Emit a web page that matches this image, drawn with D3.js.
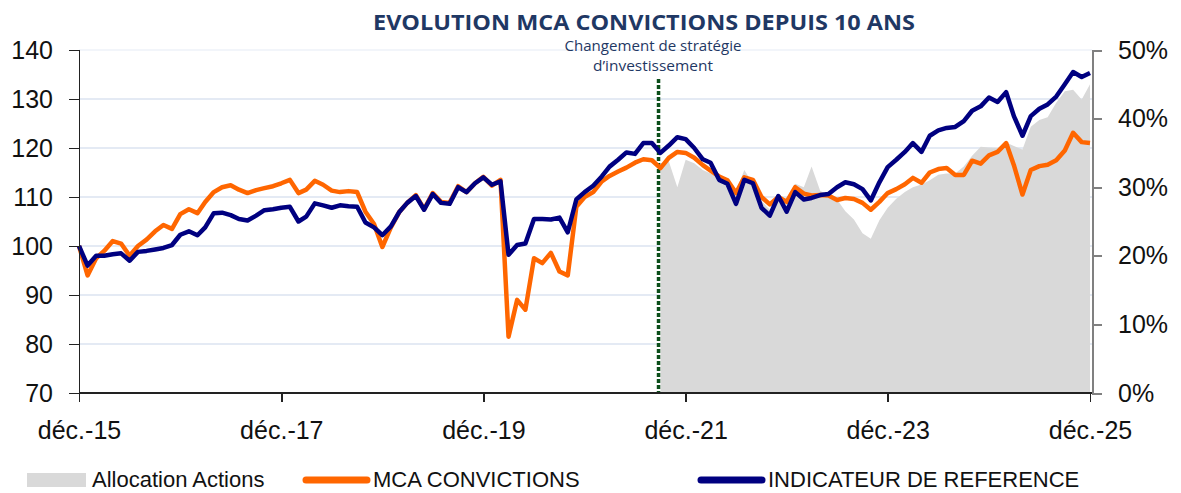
<!DOCTYPE html>
<html lang="fr">
<head>
    <meta charset="UTF-8">
    <title>Evolution MCA Convictions depuis 10 ans</title>
    <script src="https://d3js.org/d3.v7.min.js"></script>
    <style>
        body {
            margin: 0;
            background: #ffffff;
            font-family: "Liberation Sans", Arial, sans-serif;
        }
        .tick-label {
            font-size: 25px;
            fill: #111;
        }
        .legend-label {
            font-size: 22px;
            fill: #111;
        }
    </style>
</head>
<body>
    <svg id="chart" width="1181" height="493"></svg>
    <script>
        // Data (monthly, déc. 2015 -> déc. 2025)
        const startMonth = new Date(2015, 11, 1);
        const mca = [
            100, 94, 97.5, 99, 101, 100.5, 98, 100, 101.3, 103, 104.3, 103.5,
            106.5, 107.5, 106.7, 109, 111, 112, 112.4, 111.5, 110.8, 111.4, 111.8, 112.2,
            112.8, 113.5, 110.8, 111.5, 113.3, 112.5, 111.3, 111, 111.2, 111, 107, 104.5,
            99.8, 103.8, 107, 108.8, 110.4, 107.5, 110.8, 109, 108.8, 112.2, 111, 112.8,
            114.1, 112.3, 113.5, 81.5, 89, 87, 97.5, 96.5, 98.6, 94.8, 94, 108,
            110, 111, 113.2, 114.3, 115.2, 116, 117, 117.7, 117.5, 115.9, 118, 119.2,
            119, 118, 116.5, 115.4, 114.2, 113.4, 110.8, 114, 113.5, 110, 108.5, 110,
            109, 112, 110.7, 110.3, 110.4, 110.3, 109.4, 109.8, 109.6, 108.8, 107.4, 109,
            110.8, 111.6, 112.6, 113.9, 112.9, 115, 115.7, 115.9, 114.5, 114.5, 117.4, 116.8,
            118.5, 119.2, 121, 116.5, 110.5, 115.5, 116.3, 116.6, 117.5, 119.5, 123.1, 121.2,
            121
        ];
        const reference = [
            100, 96, 98, 98, 98.3, 98.5, 97, 98.8, 99, 99.3, 99.6, 100.2,
            102.3, 103, 102.2, 103.8, 106.7, 106.8, 106.3, 105.5, 105.2, 106.2, 107.3, 107.5,
            107.8, 108, 105, 106, 108.7, 108.3, 107.8, 108.3, 108.1, 108, 104.8, 103.8,
            102.2, 104, 107, 108.8, 110.2, 107.4, 110.6, 108.8, 108.6, 112, 111, 112.8,
            114, 112.5, 113.2, 98.2, 100.2, 100.5, 105.5, 105.5, 105.4, 105.8, 102.8, 109.5,
            111, 112.3, 114.2, 116.2, 117.6, 119.1, 118.8, 121, 121, 119, 120.5, 122.2,
            121.8, 120, 117.7, 117, 113.5, 112.7, 108.6, 113.5, 112.8, 107.8, 106.2, 110.2,
            107, 111, 109.5, 109.8, 110.4, 110.6, 112, 113, 112.6, 111.6, 109.3, 113,
            116.1, 117.6, 119.2, 121, 119.2, 122.5, 123.6, 124.1, 124.3, 125.5, 127.6, 128.5,
            130.3, 129.4, 131.4, 126.5, 122.5, 126.5, 128, 128.9, 130.5, 133, 135.5, 134.5,
            135.3
        ];
        // Allocation actions (right axis), from sept. 2021
        const allocStartIndex = 69;
        const allocation = [
            33.5, 33.8, 30, 34, 33.5, 32.5, 32, 31.5, 30.5, 29.5, 32.5, 30.5,
            28, 26.7, 27.8, 28.5, 30.5, 30, 33, 29.5, 28.8, 28.2, 26.5, 25.3,
            23.3, 22.5, 25.2, 27, 28.3, 29.3, 30, 30.4, 31, 31.8, 32, 32,
            33, 34.6, 35.9, 35.8, 35.7, 36.5, 36, 35.5, 38.8, 39.8, 40.2, 42.3,
            44, 44.2, 42.8, 45
        ];
        const leftTicks = [70, 80, 90, 100, 110, 120, 130, 140];
        const rightTicks = [0, 0.1, 0.2, 0.3, 0.4, 0.5];
        const xTickYears = [2015, 2017, 2019, 2021, 2023, 2025];
        const strategyDate = new Date(2021, 7, 25);

        const dates = mca.map((d, i) => d3.timeMonth.offset(startMonth, i));

        const svg = d3.select("#chart");
        const plotLeft = 79, plotRight = 1092, plotTop = 50, plotBottom = 393;

        const x = d3.scaleTime()
            .domain([startMonth, d3.timeMonth.offset(startMonth, 120)])
            .range([plotLeft, 1090]);
        const yLeft = d3.scaleLinear().domain([70, 140]).range([plotBottom, plotTop]);
        const yRight = d3.scaleLinear().domain([0, 0.5]).range([plotBottom, plotTop]);

        // Title
        svg.append("text")
            .attr("x", 644)
            .attr("y", 30)
            .attr("text-anchor", "middle")
            .attr("textLength", 542)
            .attr("lengthAdjust", "spacingAndGlyphs")
            .style("font-family", "'Open Sans', 'Noto Sans', sans-serif")
            .style("font-weight", "bold")
            .style("font-size", "21px")
            .style("fill", "#1f3864")
            .text("EVOLUTION MCA CONVICTIONS DEPUIS 10 ANS");

        // Grid
        svg.append("g")
            .selectAll("line")
            .data(leftTicks.slice(1))
            .join("line")
            .attr("x1", plotLeft)
            .attr("x2", plotRight)
            .attr("y1", d => yLeft(d))
            .attr("y2", d => yLeft(d))
            .attr("stroke", d => d === 140 ? "#eef2f8" : "#dbe3f0")
            .attr("stroke-width", 1.5);

        // Allocation area
        const allocData = allocation.map((v, i) => ({ date: dates[allocStartIndex + i], value: v / 100 }));
        svg.append("path")
            .datum(allocData)
            .attr("fill", "#d9d9d9")
            .attr("d", d3.area()
                .x(d => x(d.date))
                .y0(plotBottom)
                .y1(d => yRight(d.value)));

        // Strategy change marker
        svg.append("line")
            .attr("x1", x(strategyDate))
            .attr("x2", x(strategyDate))
            .attr("y1", 79)
            .attr("y2", plotBottom)
            .attr("stroke", "#0b4f1a")
            .attr("stroke-width", 3.5)
            .attr("stroke-dasharray", "4,2");

        const note = svg.append("text")
            .attr("text-anchor", "middle")
            .style("font-family", "'Open Sans', 'Noto Sans', sans-serif")
            .style("font-size", "15px")
            .style("fill", "#1f3864");
        note.append("tspan").attr("x", 653).attr("y", 51)
            .attr("textLength", 177).attr("lengthAdjust", "spacingAndGlyphs")
            .text("Changement de stratégie");
        note.append("tspan").attr("x", 653).attr("y", 71)
            .attr("textLength", 120).attr("lengthAdjust", "spacingAndGlyphs")
            .text("d’investissement");

        // Lines
        const line = d3.line()
            .x((d, i) => x(dates[i]))
            .y(d => yLeft(d));

        svg.append("path")
            .datum(mca)
            .attr("fill", "none")
            .attr("stroke", "#ff6600")
            .attr("stroke-width", 4.5)
            .attr("stroke-linejoin", "round")
            .attr("d", line);

        svg.append("path")
            .datum(reference)
            .attr("fill", "none")
            .attr("stroke", "#000080")
            .attr("stroke-width", 4.5)
            .attr("stroke-linejoin", "round")
            .attr("d", line);

        // Axes
        const xAxis = svg.append("g")
            .attr("transform", `translate(0,${plotBottom})`)
            .call(d3.axisBottom(x)
                .tickValues(xTickYears.map(y => new Date(y, 11, 1)))
                .tickSize(9)
                .tickPadding(19)
                .tickFormat(d => "déc.-" + String(d.getFullYear()).slice(2)));
        xAxis.select(".domain").attr("stroke", "#222").attr("stroke-width", 1.5)
            .attr("d", `M${plotLeft},0H${plotRight}`);
        xAxis.selectAll(".tick line").attr("stroke", "#222").attr("stroke-width", 1.5);
        xAxis.selectAll(".tick text").attr("class", "tick-label").attr("fill", null);

        const yAxisLeft = svg.append("g")
            .attr("transform", `translate(${plotLeft},0)`)
            .call(d3.axisLeft(yLeft).tickValues(leftTicks).tickSize(10).tickPadding(16));
        yAxisLeft.select(".domain").attr("stroke", "#222").attr("stroke-width", 1.5);
        yAxisLeft.selectAll(".tick line").attr("stroke", "#222").attr("stroke-width", 1.5);
        yAxisLeft.selectAll(".tick text").attr("class", "tick-label").attr("fill", null);

        const yAxisRight = svg.append("g")
            .attr("transform", `translate(${plotRight},0)`)
            .call(d3.axisRight(yRight).tickValues(rightTicks).tickSize(10).tickPadding(16)
                .tickFormat(d3.format(".0%")));
        yAxisRight.select(".domain").attr("stroke", "#808080").attr("stroke-width", 2);
        yAxisRight.selectAll(".tick line").attr("stroke", "#808080").attr("stroke-width", 2);
        yAxisRight.selectAll(".tick text").attr("class", "tick-label").attr("fill", null);

        svg.selectAll(".domain, .tick line").attr("shape-rendering", "crispEdges");

        // Legend
        const legend = svg.append("g");
        legend.append("rect")
            .attr("x", 27).attr("y", 473).attr("width", 59).attr("height", 14)
            .attr("fill", "#d9d9d9");
        legend.append("text").attr("class", "legend-label")
            .attr("x", 92).attr("y", 487).text("Allocation Actions");

        const legendLines = [
            { x: 306, color: "#ff6600", label: "MCA CONVICTIONS" },
            { x: 701, color: "#000080", label: "INDICATEUR DE REFERENCE" }
        ];
        legendLines.forEach(d => {
            legend.append("line")
                .attr("x1", d.x).attr("x2", d.x + 61)
                .attr("y1", 480).attr("y2", 480)
                .attr("stroke", d.color)
                .attr("stroke-width", 7)
                .attr("stroke-linecap", "round");
            legend.append("text").attr("class", "legend-label")
                .attr("x", d.x + 67).attr("y", 487).text(d.label);
        });
    </script>
</body>
</html>
